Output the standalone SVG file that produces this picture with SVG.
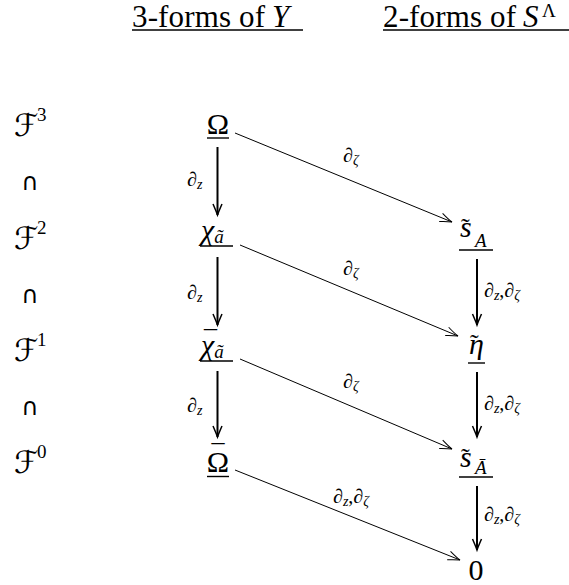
<svg xmlns="http://www.w3.org/2000/svg" width="569" height="585" viewBox="0 0 569 585" font-family="Liberation Serif, DejaVu Serif, serif">
<style>
.t{font-size:31px}
.m{font-size:30px}
.i{font-style:italic}
.sub{font-size:19px}
.lab{font-size:20px}
.ls{font-size:14px;font-style:italic}
.cal{font-size:31px;font-style:italic;font-family:"DejaVu Sans",sans-serif}
.cap{font-size:24px;font-family:"DejaVu Sans",sans-serif}
.sup{font-size:19px}
.acc{font-size:26px;font-style:normal}
.ul{stroke:#000;stroke-width:1.4}
.v{stroke:#000;stroke-width:2;fill:none}
.d{stroke:#000;stroke-width:1;fill:none}
</style>
<defs>
<marker id="vh" markerUnits="userSpaceOnUse" markerWidth="16" markerHeight="12" refX="0" refY="0" viewBox="-13 -6 16 12" orient="auto" overflow="visible">
<path d="M -11 -4.5 Q -3 -1 0 0 Q -3 1 -11 4.5" stroke="#000" stroke-width="1.5" fill="none"/>
</marker>
<marker id="dh" markerUnits="userSpaceOnUse" markerWidth="16" markerHeight="12" refX="0" refY="0" viewBox="-13 -6 16 12" orient="auto" overflow="visible">
<path d="M -12 -4.5 Q -4 -1 0 0 Q -4 1 -12 4.5" stroke="#000" stroke-width="1" fill="none"/>
</marker>
</defs>

<g id="titles">
<text class="t" x="132" y="27"><tspan textLength="133">3-forms of</tspan><tspan class="i" x="272">Y</tspan></text>
<line class="ul" x1="132" y1="30" x2="303" y2="30"/>
<text class="t" x="383" y="27"><tspan textLength="133">2-forms of</tspan><tspan class="i" x="523">S</tspan><tspan class="sup" x="542" y="17">Λ</tspan></text>
<line class="ul" x1="383" y1="30" x2="569" y2="30"/>
</g>

<g id="filtration">
<text x="14" y="136"><tspan class="cal">ℱ</tspan><tspan class="sup" x="37" y="121">3</tspan></text>
<text class="cap" x="30" y="190" text-anchor="middle">∩</text>
<text x="14" y="249"><tspan class="cal">ℱ</tspan><tspan class="sup" x="37" y="234">2</tspan></text>
<text class="cap" x="30" y="303" text-anchor="middle">∩</text>
<text x="14" y="361"><tspan class="cal">ℱ</tspan><tspan class="sup" x="37" y="346">1</tspan></text>
<text class="cap" x="30" y="415" text-anchor="middle">∩</text>
<text x="14" y="473"><tspan class="cal">ℱ</tspan><tspan class="sup" x="37" y="458">0</tspan></text>
</g>

<g id="Omega">
<text class="m" x="218" y="134" text-anchor="middle">Ω</text>
<line class="ul" x1="207" y1="138" x2="229" y2="138"/>
</g>
<g id="chi">
<text class="m" x="201" y="240"><tspan class="i">χ</tspan><tspan class="sub i" y="243">ã</tspan></text>
<line class="ul" x1="200" y1="246" x2="233" y2="246"/>
</g>
<g id="chibar">
<text class="m" x="201" y="355"><tspan class="i">χ</tspan><tspan class="sub i" y="358">ã</tspan><tspan class="acc" x="204" y="348">¯</tspan></text>
<line class="ul" x1="200" y1="361" x2="233" y2="361"/>
</g>
<g id="Omegabar">
<text class="m" x="218" y="472" text-anchor="middle">Ω<tspan class="acc" x="218" y="462">¯</tspan></text>
<line class="ul" x1="207" y1="476.5" x2="229" y2="476.5"/>
</g>

<g id="sA">
<text class="m" x="460" y="237"><tspan class="i">s</tspan><tspan class="sub i" x="475" y="247">A</tspan><tspan class="acc" x="461" y="236">˜</tspan></text>
<line class="ul" x1="459" y1="250" x2="493" y2="250"/>
</g>
<g id="eta">
<text class="m i" x="469" y="354">η<tspan class="acc" x="470" y="352">˜</tspan></text>
<line class="ul" x1="468" y1="363" x2="485" y2="363"/>
</g>
<g id="sAbar">
<text class="m" x="460" y="467"><tspan class="i">s</tspan><tspan class="sub i" x="475" y="474">Ā</tspan><tspan class="acc" x="461" y="466">˜</tspan></text>
<line class="ul" x1="459" y1="477" x2="493" y2="477"/>
</g>
<g id="zero">
<text class="m" x="476" y="580" text-anchor="middle">0</text>
</g>

<g id="connectors">
<line class="v" x1="217.5" y1="147" x2="217.5" y2="215" marker-end="url(#vh)"/>
<line class="v" x1="217.5" y1="257" x2="217.5" y2="325" marker-end="url(#vh)"/>
<line class="v" x1="217.5" y1="371" x2="217.5" y2="437" marker-end="url(#vh)"/>
<line class="v" x1="477" y1="259" x2="477" y2="325" marker-end="url(#vh)"/>
<line class="v" x1="477" y1="372" x2="477" y2="437" marker-end="url(#vh)"/>
<line class="v" x1="477" y1="486" x2="477" y2="550" marker-end="url(#vh)"/>
<line class="d" x1="235" y1="133" x2="452" y2="222" marker-end="url(#dh)"/>
<line class="d" x1="240" y1="245" x2="458" y2="336" marker-end="url(#dh)"/>
<line class="d" x1="240" y1="359" x2="452" y2="449" marker-end="url(#dh)"/>
<line class="d" x1="235" y1="470" x2="460" y2="560" marker-end="url(#dh)"/>
</g>

<g id="labels">
<text class="lab" x="187" y="186">∂<tspan class="ls" y="189">z</tspan></text>
<text class="lab" x="187" y="299">∂<tspan class="ls" y="302">z</tspan></text>
<text class="lab" x="187" y="412">∂<tspan class="ls" y="415">z</tspan></text>
<text class="lab" x="484" y="297">∂<tspan class="ls" y="300">z</tspan><tspan y="297">,∂</tspan><tspan class="ls" y="300">ζ</tspan></text>
<text class="lab" x="484" y="410">∂<tspan class="ls" y="413">z</tspan><tspan y="410">,∂</tspan><tspan class="ls" y="413">ζ</tspan></text>
<text class="lab" x="484" y="521">∂<tspan class="ls" y="524">z</tspan><tspan y="521">,∂</tspan><tspan class="ls" y="524">ζ</tspan></text>
<text class="lab" x="343" y="162">∂<tspan class="ls" y="165">ζ</tspan></text>
<text class="lab" x="343" y="275">∂<tspan class="ls" y="278">ζ</tspan></text>
<text class="lab" x="343" y="388">∂<tspan class="ls" y="391">ζ</tspan></text>
<text class="lab" x="333" y="503">∂<tspan class="ls" y="506">z</tspan><tspan y="503">,∂</tspan><tspan class="ls" y="506">ζ</tspan></text>
</g>
</svg>
